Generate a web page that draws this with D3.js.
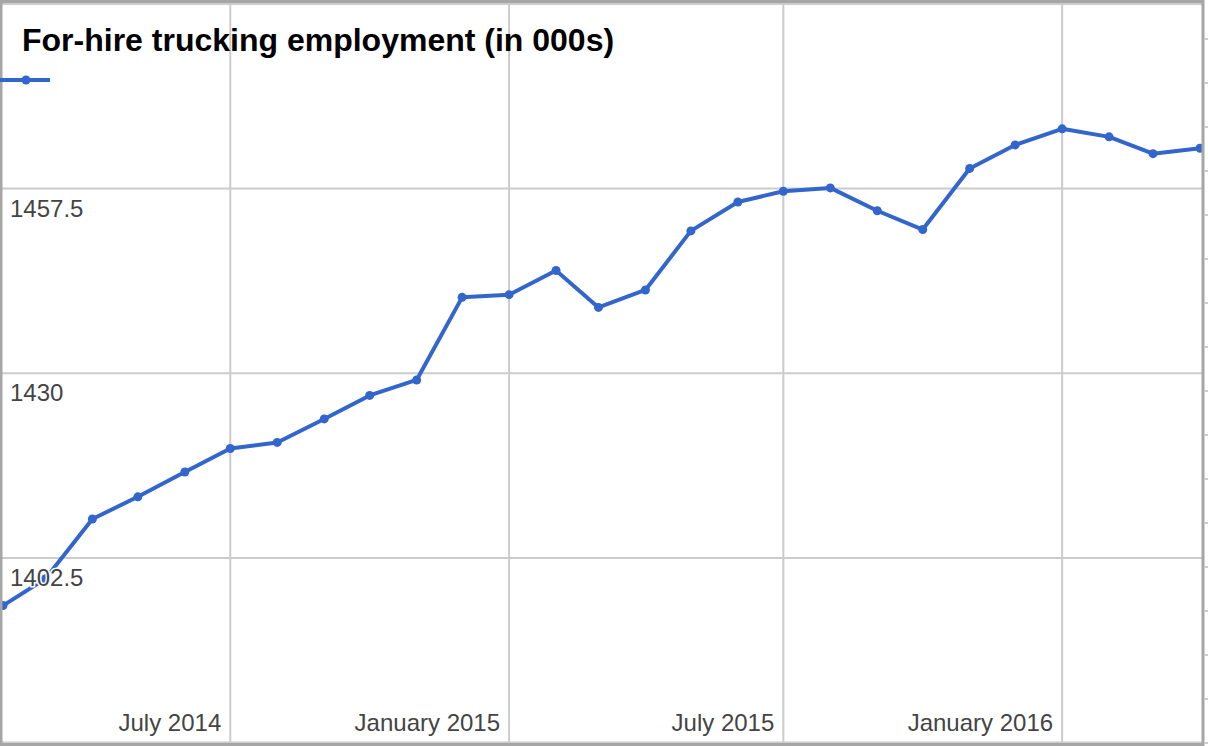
<!DOCTYPE html>
<html>
<head>
<meta charset="utf-8">
<script src="https://cdn.jsdelivr.net/npm/d3@7"></script>
<style>
  body { margin: 0; background: #fff; }
  svg { display: block; font-family: Arial, "Liberation Sans", sans-serif; }
</style>
</head>
<body>
<svg class="svg" width="1208" height="746"></svg>
<script>
// données (milliers d'emplois)
const months = ["2014-02","2014-03","2014-04","2014-05","2014-06","2014-07","2014-08","2014-09","2014-10","2014-11","2014-12",
                "2015-01","2015-02","2015-03","2015-04","2015-05","2015-06","2015-07","2015-08","2015-09","2015-10","2015-11","2015-12",
                "2016-01","2016-02","2016-03","2016-04"];
const employment = [1395.4, 1399.4, 1408.3, 1411.6, 1415.3, 1418.8, 1419.7, 1423.2, 1426.7, 1429.0, 1441.3,
                    1441.7, 1445.3, 1439.8, 1442.4, 1451.2, 1455.5, 1457.1, 1457.6, 1454.2, 1451.4, 1460.5, 1464.0,
                    1466.4, 1465.2, 1462.7, 1463.5];
const yTicks = [1375, 1402.5, 1430, 1457.5, 1485];
const yLabels = [1402.5, 1430, 1457.5];
const xTicks = ["2014-07","2015-01","2015-07","2016-01"];
const xTickLabels = ["July 2014","January 2015","July 2015","January 2016"];
const title = "For-hire trucking employment (in 000s)";

const parse = d3.timeParse("%Y-%m");
const data = months.map((m, i) => ({date: parse(m), value: employment[i]}));

const svg = d3.select(".svg");
const blue = "#3366cc", grid = "#cccccc", border = "#a6a6a6";

const x = d3.scaleTime()
  .domain([parse("2014-02"), parse("2016-04")])
  .range([3, 1200]);
const y = d3.scaleLinear()
  .domain([1375, 1485])
  .range([742.6, 3.9]);

svg.append("clipPath").attr("id", "plot")
  .append("rect").attr("x", 0).attr("y", 0).attr("width", 1203).attr("height", 743);

const g = svg.append("g").attr("clip-path", "url(#plot)");

// grilles
g.selectAll(".hgrid").data(yTicks).enter().append("line")
  .attr("x1", 0).attr("x2", 1203)
  .attr("y1", d => y(d)).attr("y2", d => y(d))
  .attr("stroke", grid).attr("stroke-width", 2);

g.selectAll(".vgrid").data(xTicks).enter().append("line")
  .attr("x1", d => x(parse(d))).attr("x2", d => x(parse(d)))
  .attr("y1", 0).attr("y2", 743)
  .attr("stroke", grid).attr("stroke-width", 2);

// la courbe
const line = d3.line().x(d => x(d.date)).y(d => y(d.value));
g.append("path").datum(data)
  .attr("d", line)
  .attr("fill", "none")
  .attr("stroke", blue)
  .attr("stroke-width", 4)
  .attr("stroke-linejoin", "round");

g.selectAll(".pt").data(data).enter().append("circle")
  .attr("cx", d => x(d.date)).attr("cy", d => y(d.value))
  .attr("r", 4.5).attr("fill", blue);

// étiquettes de l'axe Y (dans le graphique, sous la ligne)
g.selectAll(".ylab").data(yLabels).enter().append("text")
  .text(d => d)
  .attr("x", 10).attr("y", d => y(d) + 28)
  .attr("font-size", 24).attr("fill", "#444")
  .attr("stroke", "#fff").attr("stroke-width", 3).attr("paint-order", "stroke");

// étiquettes de l'axe X, alignées à droite de la grille
g.selectAll(".xlab").data(xTicks).enter().append("text")
  .text((d, i) => xTickLabels[i])
  .attr("x", d => x(parse(d)) - 9).attr("y", 731)
  .attr("text-anchor", "end")
  .attr("font-size", 24).attr("fill", "#444");

// cadre
svg.append("rect")
  .attr("x", 1).attr("y", 1.5).attr("width", 1202).attr("height", 743)
  .attr("fill", "none").attr("stroke", border).attr("stroke-width", 3);

// petites graduations à droite du cadre
svg.selectAll(".rtick").data(d3.range(39, 746, 44)).enter().append("line")
  .attr("x1", 1204).attr("x2", 1208)
  .attr("y1", d => d).attr("y2", d => d)
  .attr("stroke", grid).attr("stroke-width", 2);

// titre + légende
svg.append("text").text(title)
  .attr("x", 22).attr("y", 51)
  .attr("font-size", 32).attr("font-weight", "bold").attr("fill", "#000");

svg.append("line").attr("x1", 0).attr("x2", 50).attr("y1", 80).attr("y2", 80)
  .attr("stroke", blue).attr("stroke-width", 4);
svg.append("circle").attr("cx", 26).attr("cy", 80).attr("r", 4.5).attr("fill", blue);
</script>
</body>
</html>
